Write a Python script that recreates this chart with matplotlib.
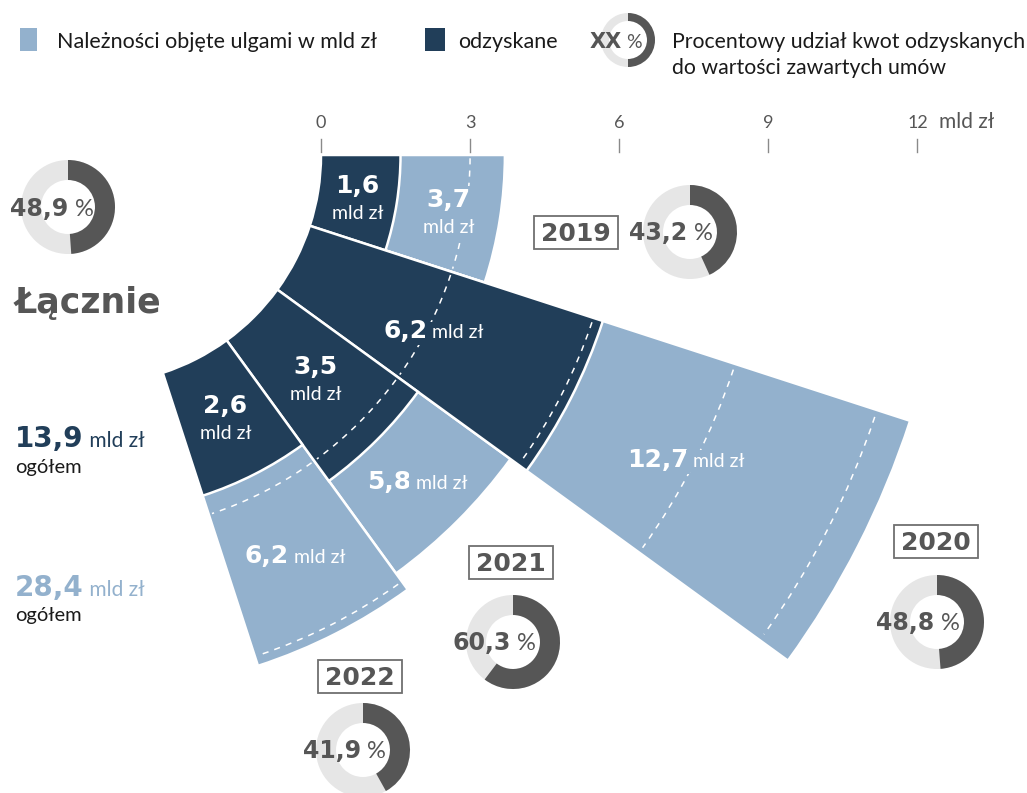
import matplotlib
matplotlib.use('Agg')
import matplotlib.pyplot as plt
from matplotlib.patches import Wedge, Arc, Rectangle
import numpy as np

# data (mld zł)
years = ['2019', '2020', '2021', '2022']
covered = [3.7, 12.7, 5.8, 6.2]      # należności objęte ulgami
recovered = [1.6, 6.2, 3.5, 2.6]     # odzyskane
share = [43.2, 48.8, 60.3, 41.9]     # % odzyskanych
total_covered = 28.4
total_recovered = 13.9
total_share = 48.9
scale_ticks = [0, 3, 6, 9, 12]

LIGHT = '#93b1cd'
DARK = '#213e59'
GREY = '#565656'
RING = '#e6e6e6'
BOLD = 'DejaVu Sans'
REG = 'Lato'

W, H = 1027, 793
fig = plt.figure(figsize=(W / 100, H / 100), dpi=100)
ax = fig.add_axes([0, 0, 1, 1])
ax.set_xlim(0, W)
ax.set_ylim(H, 0)
ax.axis('off')
renderer = fig.canvas.get_renderer()

# fan geometry in pixels
cx, cy = 92, 155
r0 = 229
k = 49.7      # px per 1 mld zł
step = 18     # degrees per year

# layout of annotations
stack_dark = [True, False, True, True]
stack_light = [True, False, False, False]
light_frac = [0.5, 0.4, 0.5, 0.5]   # where the light label sits along its segment
donut_xy = [(690, 232), (937, 622), (513, 642), (363, 750)]
box_xy = [(576, 232), (936, 541), (511, 562), (360, 676)]


def px(pt):
    return pt * 100 / 72


def rich(x, yc, parts, ha='center', bg=None, z=6):
    # parts: (text, size, bold, color); yc = vertical centre of caps
    big = max(p[1] for p in parts)
    base = yc + 0.36 * px(big)
    texts = []
    for s, size, bold, color in parts:
        t = ax.text(x, base, s, fontsize=size, color=color, va='baseline', ha='left',
                    family=BOLD if bold else REG,
                    fontweight='bold' if bold else 'normal', zorder=z)
        if bg is not None:
            t.set_bbox(dict(fc=bg, ec='none', pad=1.5))
        texts.append(t)
    widths = [t.get_window_extent(renderer).width for t in texts]
    x0 = x - sum(widths) / 2 if ha == 'center' else x
    for t, w in zip(texts, widths):
        t.set_x(x0)
        x0 += w
    return texts


def donut(x, y, pct, r=47, w=20):
    ax.add_patch(Wedge((x, y), r, 0, 360, width=w, fc=RING, ec='none', zorder=3))
    ax.add_patch(Wedge((x, y), r, -90, -90 + pct * 3.6, width=w, fc=GREY, ec='none', zorder=3))


# bars
for i in range(len(years)):
    t1, t2 = i * step, (i + 1) * step
    r_tot = r0 + covered[i] * k
    r_rec = r0 + recovered[i] * k
    ax.add_patch(Wedge((cx, cy), r_tot, t1, t2, width=r_tot - r0,
                       fc=LIGHT, ec='white', lw=1.8, zorder=2))
    ax.add_patch(Wedge((cx, cy), r_rec, t1, t2, width=r_rec - r0,
                       fc=DARK, ec='white', lw=1.8, zorder=3))
    for g in scale_ticks[1:]:
        if g < covered[i]:
            rr = r0 + g * k
            ax.add_patch(Arc((cx, cy), 2 * rr, 2 * rr, theta1=t1 + 0.5, theta2=t2 - 0.5,
                             color='white', lw=1.1, ls=(0, (4, 4)), zorder=4))

    a = np.radians((i + 0.5) * step)
    # dark label
    rd = r0 + recovered[i] / 2 * k
    x, y = cx + rd * np.cos(a), cy + rd * np.sin(a)
    num = f'{recovered[i]:.1f}'.replace('.', ',')
    if stack_dark[i]:
        rich(x, y - 13, [(num, 18, True, 'white')], bg=DARK)
        rich(x, y + 15, [('mld zł', 14, False, 'white')], bg=DARK)
    else:
        rich(x, y, [(num, 18, True, 'white'), (' mld zł', 14, False, 'white')], bg=DARK)
    # light label
    rl = r0 + (recovered[i] + light_frac[i] * (covered[i] - recovered[i])) * k
    x, y = cx + rl * np.cos(a), cy + rl * np.sin(a)
    num = f'{covered[i]:.1f}'.replace('.', ',')
    if stack_light[i]:
        rich(x, y - 13, [(num, 18, True, 'white')], bg=LIGHT)
        rich(x, y + 15, [('mld zł', 14, False, 'white')], bg=LIGHT)
    else:
        rich(x, y, [(num, 18, True, 'white'), (' mld zł', 14, False, 'white')], bg=LIGHT)

    # donut + year box
    dx, dy = donut_xy[i]
    donut(dx, dy, share[i])
    rich(dx - 19, dy, [(f'{share[i]:.1f}'.replace('.', ','), 17, True, GREY),
                       (' %', 17, False, GREY)])
    bx, by = box_xy[i]
    ax.add_patch(Rectangle((bx - 42, by - 16.5), 84, 33, fc='white', ec='#707070', lw=1.3, zorder=5))
    rich(bx, by, [(years[i], 18, True, GREY)])

# top scale
for v in scale_ticks:
    x = cx + r0 + v * k
    ax.plot([x, x], [139, 152], color='#8a8a8a', lw=1, zorder=2)
    rich(x, 121, [(str(v), 13, False, GREY)])
rich(cx + r0 + scale_ticks[-1] * k + 22, 121, [('mld zł', 15, False, GREY)], ha='left')

# totals (left)
donut(68, 207, total_share)
rich(52, 207, [(f'{total_share:.1f}'.replace('.', ','), 17, True, GREY), (' %', 17, False, GREY)])
rich(15, 300, [('Łącznie', 25, True, GREY)], ha='left')
rich(15, 437, [(f'{total_recovered:.1f}'.replace('.', ','), 20, True, DARK),
               (' mld zł', 15, False, DARK)], ha='left')
rich(15, 466, [('ogółem', 14.5, False, '#1a1a1a')], ha='left')
rich(15, 586, [(f'{total_covered:.1f}'.replace('.', ','), 20, True, LIGHT),
               (' mld zł', 15, False, LIGHT)], ha='left')
rich(15, 614, [('ogółem', 14.5, False, '#1a1a1a')], ha='left')

# legend
ax.add_patch(Rectangle((20, 28), 17, 23, fc=LIGHT, ec='none'))
rich(57, 40, [('Należności objęte ulgami w mld zł', 15.5, False, '#1a1a1a')], ha='left')
ax.add_patch(Rectangle((425, 28), 20, 23, fc=DARK, ec='none'))
rich(458, 40, [('odzyskane', 15.5, False, '#1a1a1a')], ha='left')
donut(628, 40, 50, r=27, w=8)
rich(616, 40, [('XX', 15, True, GREY), (' %', 14, False, GREY)])
rich(672, 40, [('Procentowy udział kwot odzyskanych', 15.3, False, '#1a1a1a')], ha='left')
rich(672, 66, [('do wartości zawartych umów', 15.3, False, '#1a1a1a')], ha='left')

fig.savefig('out.png', dpi=100, facecolor='white')
